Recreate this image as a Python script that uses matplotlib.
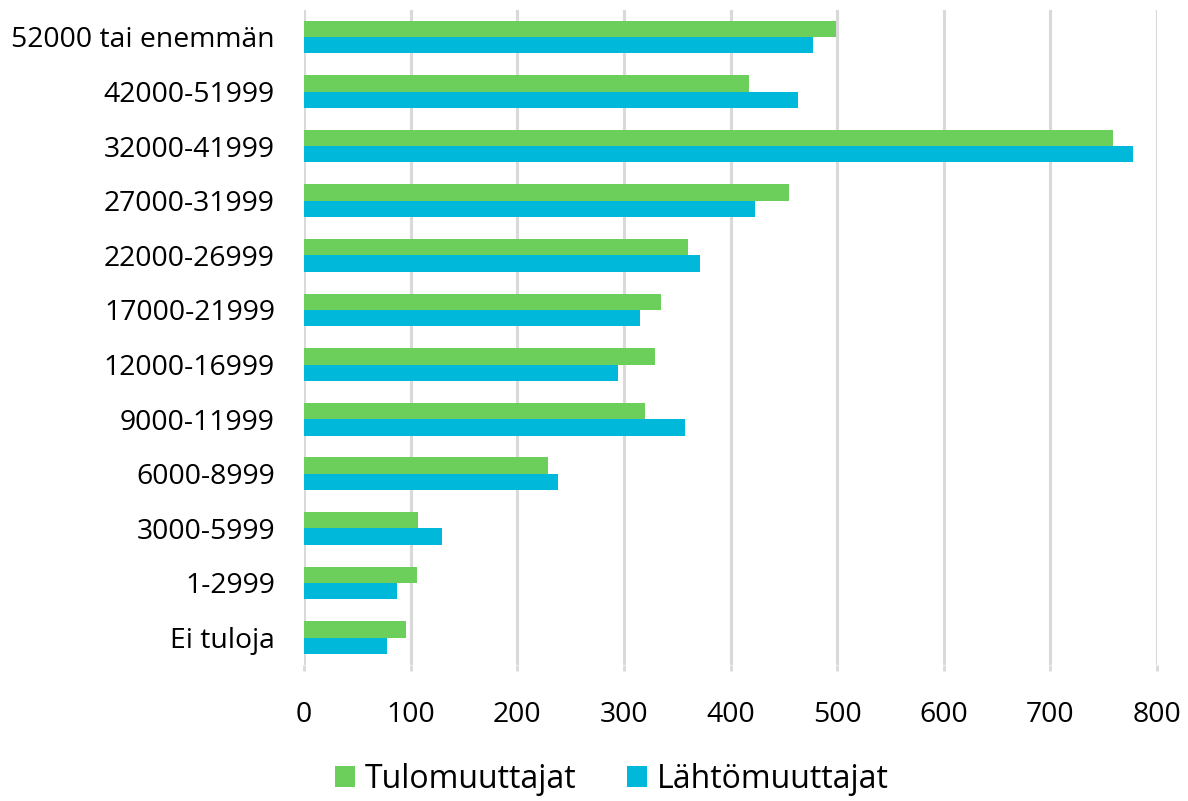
import matplotlib
matplotlib.use('Agg')
import matplotlib.pyplot as plt
import numpy as np

plt.rcParams['font.family'] = ['Open Sans', 'DejaVu Sans']

# tuloluokat alhaalta ylös
luokat = ['Ei tuloja', '1-2999', '3000-5999', '6000-8999', '9000-11999',
          '12000-16999', '17000-21999', '22000-26999', '27000-31999',
          '32000-41999', '42000-51999', '52000 tai enemmän']
tulo = [96, 106, 107, 229, 320, 329, 335, 360, 455, 759, 417, 499]
lahto = [78, 87, 129, 238, 357, 294, 315, 371, 423, 777, 463, 477]
xticks = [0, 100, 200, 300, 400, 500, 600, 700, 800]

vihrea = '#6ccf5c'
sininen = '#00b9da'
harmaa = '#d9d9d9'

fig = plt.figure(figsize=(11.88, 8.01), dpi=100)
ax = fig.add_axes([0.256, 0.170, 0.718, 0.818])

y = np.arange(len(luokat))
h = 0.30
ax.barh(y + h / 2, tulo, height=h, color=vihrea, label='Tulomuuttajat', zorder=3)
ax.barh(y - h / 2, lahto, height=h, color=sininen, label='Lähtömuuttajat', zorder=3)

ax.set_xlim(0, 800)
ax.set_ylim(-0.5, len(luokat) - 0.5)
ax.set_xticks(xticks)
ax.set_yticks(y)
ax.set_yticklabels(luokat)
ax.grid(axis='x', color=harmaa, linewidth=2.2, zorder=0)
ax.set_axisbelow(True)
for s in ax.spines.values():
    s.set_visible(False)
ax.tick_params(axis='y', length=0, pad=21, labelsize=20.4, labelcolor='#000000')
ax.tick_params(axis='x', length=4, width=2, color=harmaa, pad=22,
               labelsize=20.4, labelcolor='#000000')

fig.legend(loc='center', bbox_to_anchor=(0.515, 0.027), ncol=2, frameon=False,
           fontsize=23, handlelength=0.63, handleheight=0.63,
           handletextpad=0.3, columnspacing=1.6)

fig.savefig('out.png', dpi=100)
